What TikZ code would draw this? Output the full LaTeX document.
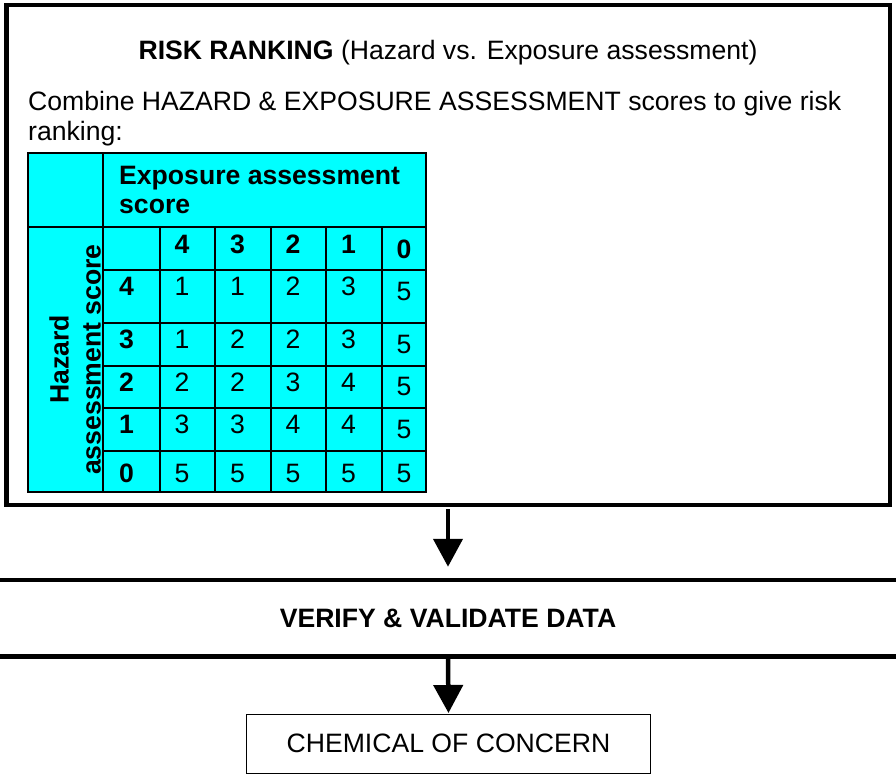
\documentclass[tikz,border=0pt]{standalone}
\usepackage{fontspec}
\setmainfont{Liberation Sans}
\setsansfont{Liberation Sans}
\RequirePackage{xcolor}
\usetikzlibrary{calc}
\usetikzlibrary{positioning}
\usetikzlibrary{arrows.meta}
\definecolor{tablecyan}{RGB}{0,255,255}
\newcommand\bodyfont{\fontsize{26.6}{30}\selectfont}
\tikzset{every picture/.style={/utils/exec={\sffamily}}}
\tikzset{
  cell/.style={anchor=base west, inner sep=0, font=\bodyfont},
  boldcell/.style={cell, font=\bodyfont\bfseries},
  tableline/.style={line width=1.5pt},
  thickline/.style={line width=4.5pt},
  flow/.style={line width=4.5pt, -{Triangle[width=29pt, length=28pt]}},
}

\begin{document}
\begin{tikzpicture}[x=1pt, y=-1pt]
  \useasboundingbox (0,0) rectangle (896,776);

  \node [draw, thickline, minimum width=883.5pt, minimum height=500pt, inner sep=0] (riskbox) at (448,255) {};
  \node [anchor=base, inner sep=0, font=\bodyfont] (title) at ($(riskbox.north)+(0,57)$) {\textbf{RISK RANKING} (Hazard vs. Exposure assessment)};
  \node [anchor=north west, inner sep=0, align=left, font=\bodyfont] (combine) at (28,91) {Combine HAZARD \& EXPOSURE ASSESSMENT scores to give risk\\ranking:};

  % table
  \fill [tablecyan] (28,153) rectangle (426,492);
  \draw [tableline] (28,153) rectangle (426,492);
  \draw [tableline] (103,153) -- (103,492);
  \draw [tableline] (28,227) -- (426,227);
  \foreach \x in {160,215,271,326,382}
    \draw [tableline] (\x,227) -- (\x,492);
  \foreach \y in {270,323,366,408,451}
    \draw [tableline] (103,\y) -- (426,\y);

  \node [anchor=north west, inner sep=0, align=left, font=\fontsize{26.6}{29}\selectfont\bfseries] (exposure) at (119,166) {Exposure assessment\\score};
  \node [rotate=90, inner sep=0, align=center, font=\fontsize{26.6}{32}\selectfont\bfseries] (hazard) at (75,359.5) {Hazard\\assessment score};

  \foreach \v [count=\i] in {4,3,2,1}
    \node [boldcell] (head\i) at ({119+55.5*\i},253) {\v};
  \node [boldcell] (head5) at (396.5,258) {0};
  \foreach \r/\ya/\yb/\vals in {4/295/300/{1,1,2,3}, 3/348/353/{1,2,2,3}, 2/391/395/{2,2,3,4}, 1/433/438/{3,3,4,4}, 0/482/482/{5,5,5,5}} {
    \node [boldcell] (row\r) at (119,\ya) {\r};
    \foreach \v [count=\i] in \vals
      \node [cell] (cell\r\i) at ({119+55.5*\i},\ya) {\v};
    \node [cell] (cell\r5) at (396.5,\yb) {5};
  }

  \node [minimum width=896pt, minimum height=76.5pt, inner sep=0, outer sep=0, font=\bodyfont\bfseries] (verify) at (448,618.25) {VERIFY \& VALIDATE DATA};
  \draw [thickline] (verify.north west) -- (verify.north east);
  \draw [thickline] (verify.south west) -- (verify.south east);

  \node [draw, line width=1pt, minimum width=404pt, minimum height=59pt, font=\bodyfont] (chemical) at (448.5,743.5) {CHEMICAL OF CONCERN};

  \draw [flow, shorten <=1.75pt, shorten >=13.25pt] (riskbox.south) -- (verify.north);
  \draw [flow, shorten <=2.5pt, shorten >=0.5pt] (verify.south) -- (chemical.north);
\end{tikzpicture}
\end{document}
